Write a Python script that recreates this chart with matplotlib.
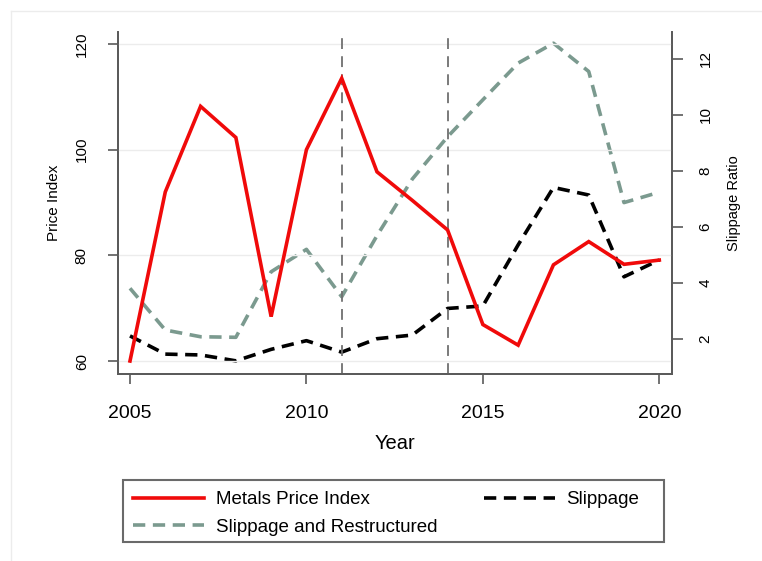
import matplotlib
matplotlib.use("Agg")
import matplotlib.pyplot as plt
from matplotlib.lines import Line2D
from matplotlib.patches import Rectangle

plt.rcParams['font.family'] = ['Liberation Sans', 'DejaVu Sans']

years = list(range(2005, 2021))
metals_price_index = [60, 92, 108.2, 102.3, 68.4, 100, 113.5, 95.8, 90.4, 84.8,
                      66.9, 63.0, 78.2, 82.6, 78.3, 79.1]
slippage = [2.1, 1.45, 1.42, 1.21, 1.62, 1.93, 1.52, 2.0, 2.13, 3.08,
            3.17, 5.35, 7.4, 7.13, 4.21, 4.81]
slippage_restructured = [3.8, 2.31, 2.07, 2.05, 4.39, 5.19, 3.5, 5.68, 7.7, 9.21,
                         10.53, 11.84, 12.55, 11.54, 6.86, 7.23]
event_years = [2011, 2014]

x_ticks = [2005, 2010, 2015, 2020]
left_ticks = [60, 80, 100, 120]
right_ticks = [2, 4, 6, 8, 10, 12]

RED = '#f00a0a'
SAGE = '#7b9a8f'
SPINE = '#5a5a5a'

fig = plt.figure(figsize=(7.62, 5.61), dpi=100)
W, H = 762, 561
AX_L, AX_R, AX_T, AX_B = 118, 672, 32, 374
ax = fig.add_axes([AX_L / W, 1 - AX_B / H, (AX_R - AX_L) / W, (AX_B - AX_T) / H])
ax2 = ax.twinx()

# faint outer frame of the graph region
fig.add_artist(Line2D([11 / W, 1.0], [1 - 11 / H, 1 - 11 / H], color='#ececec', lw=1))
fig.add_artist(Line2D([11 / W, 11 / W], [0.0, 1 - 11 / H], color='#ececec', lw=1))

ax.set_xlim(2004.66, 2020.36)
ax.set_ylim(57.54, 122.27)
ax2.set_ylim(0.74, 12.95)

for v in left_ticks:
    ax.axhline(v, color='#ececec', lw=1.0, zorder=0)
for yr in event_years:
    ax.axvline(yr, color='#707070', lw=1.3, ls=(0, (6, 4)), zorder=1)

lw = 2.6
dash = (0, (3.4, 2.1))
l_red, = ax.plot(years, metals_price_index, color=RED, lw=lw, zorder=3,
                 solid_joinstyle='miter', label='Metals Price Index')
l_blk, = ax2.plot(years, slippage, color='black', lw=lw, ls=dash, zorder=3,
                  label='Slippage')
l_sag, = ax2.plot(years, slippage_restructured, color=SAGE, lw=lw, ls=dash, zorder=2,
                  label='Slippage and Restructured')
ax.set_zorder(ax2.get_zorder() + 1)
ax.patch.set_visible(False)

for a in (ax, ax2):
    a.spines['top'].set_visible(False)
    for s in ('left', 'right', 'bottom'):
        a.spines[s].set_color(SPINE)
        a.spines[s].set_linewidth(1.3)

ax.set_xticks(x_ticks)
ax.set_xticklabels([str(v) for v in x_ticks])
ax.tick_params(axis='x', length=7, width=1.2, color=SPINE, pad=15, labelsize=14)
ax.set_yticks(left_ticks)
ax.set_yticklabels([str(v) for v in left_ticks], rotation=90, va='center')
ax.tick_params(axis='y', length=7, width=1.2, color=SPINE, pad=14, labelsize=11)
ax2.set_yticks(right_ticks)
ax2.set_yticklabels([str(v) for v in right_ticks], rotation=90, va='center')
ax2.tick_params(axis='y', length=8, width=1.2, color=SPINE, pad=11, labelsize=11)

ax.set_xlabel('Year', fontsize=14.5, labelpad=9)
ax.set_ylabel('Price Index', fontsize=11, rotation=90, ha='center', va='center')
ax.yaxis.set_label_coords((54 - AX_L) / (AX_R - AX_L), 0.5)
ax2.set_ylabel('Slippage Ratio', fontsize=10.5, rotation=90, ha='center', va='center')
ax2.yaxis.set_label_coords((734 - AX_L) / (AX_R - AX_L), 0.5)

# legend box
fig.add_artist(Rectangle((123 / W, 1 - 542 / H), (664 - 123) / W, (542 - 480) / H,
                         transform=fig.transFigure, fill=False, ec='#6a6a6a', lw=1.5))
fig.legend([l_red, l_sag, l_blk],
           ['Metals Price Index', 'Slippage and Restructured', 'Slippage'],
           ncol=2, frameon=False, loc='center left',
           bbox_to_anchor=(133 / W, 1 - 513.5 / H), fontsize=13.5,
           handlelength=3.8, handletextpad=0.6, columnspacing=2.5,
           labelspacing=0.56, borderpad=0.0, borderaxespad=0.0)

fig.savefig('out.png', dpi=100, facecolor='white')
